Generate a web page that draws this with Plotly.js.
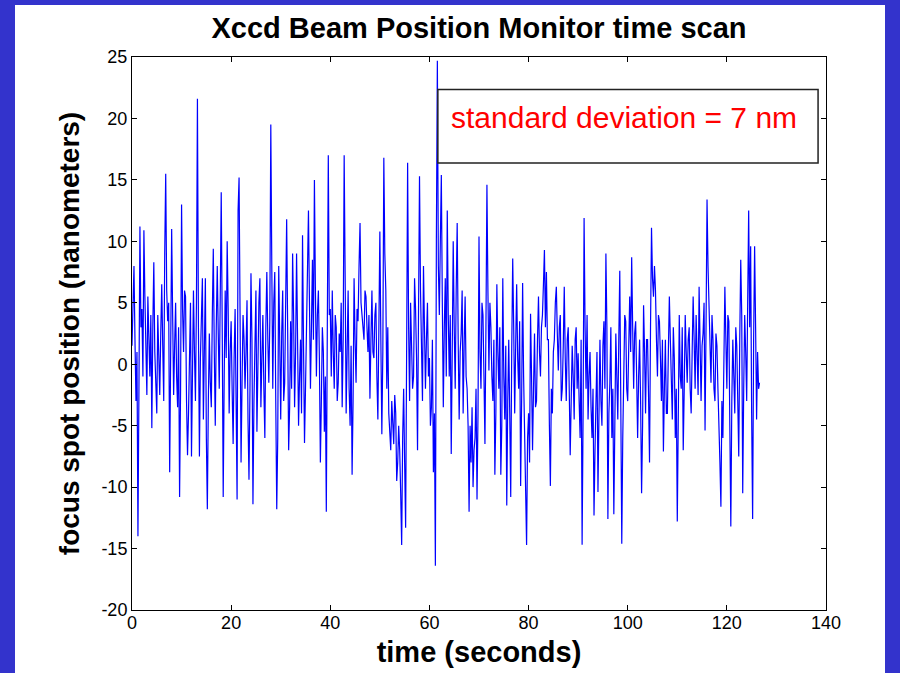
<!DOCTYPE html>
<html>
<head>
<meta charset="utf-8">
<script src="https://cdn.plot.ly/plotly-3.0.1.min.js"></script>
<style>
  html, body { margin: 0; padding: 0; width: 900px; height: 673px; background: #3333cc; overflow: hidden; }
  #chart { position: absolute; left: 15px; top: 5px; width: 870px; height: 668px; background: #ffffff; }
</style>
</head>
<body>
<div id="chart"></div>
<script>
// sampling interval (seconds)
const sampleStep = 0.2;

// focus spot position (nm), one value per sample
const positions = [
  1.5, 5.0, 8.0, 2.0, -3.0, 1.0, -14.0, -2.0, 11.2, 3.0,
  4.5, -1.0, 10.9, 5.5, 0.5, -2.5, 5.5, 2.0, -1.0, 4.0,
  -5.2, 3.0, 8.3, 1.0, -1.5, -4.0, 4.0, 0.5, -2.5, 2.5,
  6.5, 1.5, -3.0, 9.0, 15.5, 6.0, 3.5, 5.0, -8.8, 1.0,
  11.0, 4.0, -2.5, 1.5, 5.0, -1.0, -3.5, 3.0, -10.8, -2.0,
  13.0, 4.5, 1.0, 6.0, 5.5, -3.0, -7.4, -4.0, 2.0, 5.0,
  -7.5, -1.0, 6.0, 1.0, -3.0, 5.0, 21.6, 3.0, -7.5, 0.5,
  5.5, 7.0, -4.5, 2.0, 7.0, -6.0, -11.8, -3.0, 2.5, -1.5,
  -3.5, 4.0, 9.4, 1.0, -5.0, 3.0, 8.0, 2.5, -2.0, 5.5,
  14.0, 3.0, -10.8, -1.0, 6.0, 0.5, 10.0, 4.5, -4.0, 1.0,
  3.5, -2.0, -6.5, 0.5, 4.5, -3.0, -11.0, 12.5, 15.2, 4.0,
  -8.0, -1.5, 4.0, 2.0, -2.0, 1.0, 5.2, -4.5, -9.4, -2.0,
  7.4, 2.0, -11.4, -3.0, 2.5, 6.0, -5.5, 1.0, 5.0, 7.0,
  -3.5, 0.5, 4.0, -2.0, -6.0, 3.0, 7.5, 2.0, -1.5, 3.5,
  19.5, 8.0, -2.0, 5.0, 7.5, -3.0, -11.8, -6.0, 8.0, 2.0,
  -4.5, 2.5, 6.0, -3.0, -1.5, 5.0, 11.8, 3.0, -7.0, -3.5,
  3.5, -2.0, 9.0, 4.0, -3.5, 1.0, 9.0, 2.0, -5.0, -1.0,
  2.0, -4.0, 10.5, 1.5, -6.4, -2.0, 3.0, 7.0, 12.5, 5.0,
  -2.0, 3.0, 8.5, 2.0, 15.0, 6.0, -1.0, 4.0, 6.0, 0.5,
  -8.0, -3.0, 3.0, 1.0, -5.5, -1.0, -12.0, 3.0, 17.0, 4.0,
  4.5, -1.0, 6.0, 1.0, -2.0, 4.0, 3.0, -3.0, -1.5, 2.5,
  1.0, 5.0, -3.5, 2.0, 17.0, 7.0, -4.0, 1.0, 6.0, -2.0,
  -5.0, 1.5, -9.0, -3.0, 7.0, 2.0, -1.5, 4.5, 3.5, 8.0,
  11.5, 5.0, 4.0, 2.5, 2.0, 6.0, 5.5, 3.0, 1.0, 4.0,
  -2.8, 2.0, 6.0, 1.0, 0.5, 4.0, 5.0, -1.0, -4.5, 3.0,
  10.8, 2.0, -5.7, 1.0, 16.8, 9.0, 6.0, -2.0, 3.0, -4.0,
  -5.5, -7.0, -3.0, -5.0, -6.5, -2.5, -4.0, -9.5, -8.0, -5.0,
  -7.0, -10.5, -14.7, -6.0, -2.0, -8.0, -13.3, 1.0, 16.4, 3.0,
  -3.0, 5.0, 1.5, -2.0, -1.0, 7.0, 4.5, 0.5, -7.0, 2.0,
  15.3, 6.0, 1.0, -3.0, 8.0, 3.5, -2.0, 2.0, 5.0, -1.0,
  0.5, -5.0, -3.5, 2.0, -8.8, -4.0, -16.4, 10.0, 24.7, 8.0,
  4.0, 10.0, 15.4, 5.0, -3.5, 3.0, 7.0, -1.0, 12.5, 4.0,
  -1.0, 4.0, -7.3, 1.0, 10.0, 3.0, -2.0, 6.0, 11.5, 2.0,
  -4.5, 1.0, 2.5, 6.0, -4.0, 1.5, 5.5, -1.0, -2.0, -5.0,
  -12.0, -5.0, -8.0, -3.5, -10.0, -7.0, -6.0, -2.0, -11.0, -4.0,
  10.4, 1.0, -2.0, 5.0, 4.0, -1.0, -6.5, 3.0, 14.6, 6.0,
  -0.5, 5.0, 3.0, -1.0, -3.0, 2.0, -9.0, -4.0, 6.5, 1.0,
  -2.0, 3.0, -9.0, -5.0, 7.0, -1.0, -4.5, 1.5, -11.5, -3.0,
  2.0, -4.0, -10.8, 1.0, 8.6, 3.0, -4.0, 1.5, 6.5, 0.5,
  -2.0, 3.5, -9.9, -3.0, 6.6, -1.0, -6.0, -10.0, -14.7, -6.0,
  -4.0, -8.0, 4.1, -1.0, -7.0, -2.0, 2.5, -3.5, -3.0, 2.0,
  5.5, 1.0, -1.0, 3.0, 4.0, 6.5, 9.3, 3.0, 7.5, 2.0,
  2.0, -5.0, -9.9, -2.0, -4.0, 1.0, 2.0, 5.0, 6.3, 2.5,
  -0.5, 3.0, 4.0, -3.0, -2.0, 1.5, 6.3, 0.5, -3.0, 2.0,
  3.0, -2.0, -7.4, -3.0, 1.5, -1.0, -4.5, 2.0, 3.0, -2.0,
  0.9, -3.0, -6.0, 2.0, -14.7, -4.0, 11.9, 3.0, -2.0, 4.0,
  -4.5, -1.0, 1.0, -3.5, -6.0, -2.0, -12.3, -7.0, -3.0, 1.0,
  -10.4, -5.0, 2.0, -3.0, -5.0, 1.5, 3.5, -2.0, 9.0, 3.0,
  -12.6, -4.0, -1.5, 3.0, -6.0, -2.0, -12.2, -5.0, 2.5, -1.0,
  -4.5, 2.0, 7.6, -3.0, -14.6, -6.0, -1.0, 4.0, 3.5, -2.0,
  -3.0, 2.0, 5.5, 1.0, 8.7, 3.0, -2.0, 2.5, 3.5, -1.0,
  -6.0, -1.0, 2.0, -3.0, -10.5, -5.0, 4.8, 1.0, -4.0, 2.0,
  2.0, -2.5, -8.0, 3.0, 11.1, 7.0, 5.5, 8.0, 6.0, 2.0,
  -1.0, 4.0, 3.5, 0.5, -3.0, 2.0, -7.1, -2.0, 2.0, -4.0,
  -4.0, 1.0, 5.5, 2.0, -1.0, -4.5, 3.0, 0.5, -6.0, -2.0,
  -12.8, -3.0, 4.0, -1.0, -2.0, 3.0, -7.0, -2.0, 4.0, 1.0,
  -1.5, 2.0, 3.0, -2.0, -4.0, 1.0, 5.5, 2.0, -2.0, 4.0,
  1.0, -2.5, 6.3, 2.0, -3.0, 1.5, 2.5, 5.0, -5.4, 3.0,
  13.4, 8.0, 5.0, 1.0, -1.5, 4.0, 2.0, -2.0, -3.0, 2.5,
  1.5, -2.0, -4.5, -8.0, -11.6, -3.0, -6.0, 1.0, 6.3, 2.0,
  -2.0, 4.0, 3.5, -5.0, -13.2, -3.0, 2.0, -1.0, -4.0, 3.0,
  1.5, -3.0, -7.5, 2.0, 8.5, 4.0, -10.5, -2.0, 4.0, 1.0,
  -3.0, 5.0, 12.5, 3.0, 9.6, -4.0, -12.6, 2.0, 9.6, 3.0,
  -4.5, 1.0, -2.0, -1.5
];

const times = positions.map((_, i) => +(i * sampleStep).toFixed(2));

const xTickVals = [0, 20, 40, 60, 80, 100, 120, 140];
const yTickVals = [-20, -15, -10, -5, 0, 5, 10, 15, 20, 25];

const chartTitle = "Xccd Beam Position Monitor time scan";
const xLabel = "time (seconds)";
const yLabel = "focus spot position (nanometers)";
const noteText = "standard deviation = 7 nm";

const tickFont = { family: "Liberation Sans, Arial, sans-serif", size: 18, color: "#000000" };
const boldFont = { family: "Liberation Sans, Arial, sans-serif", size: 29, color: "#000000", weight: "bold" };
const yTitleFont = { family: "Liberation Sans, Arial, sans-serif", size: 28, color: "#000000", weight: "bold" };

const trace = {
  x: times,
  y: positions,
  type: "scatter",
  mode: "lines",
  line: { color: "#0000ff", width: 1.2 },
  hoverinfo: "skip"
};

const layout = {
  width: 870,
  height: 668,
  paper_bgcolor: "#ffffff",
  plot_bgcolor: "#ffffff",
  margin: { l: 117, r: 59, t: 52, b: 63 },
  showlegend: false,
  title: {
    text: "<b>" + chartTitle + "</b>",
    font: boldFont,
    xref: "paper", x: 0.5, xanchor: "center",
    yref: "container", y: 0.966, yanchor: "middle"
  },
  xaxis: {
    range: [0, 140],
    tickvals: xTickVals,
    ticktext: xTickVals.map(String),
    ticks: "inside", ticklen: 5, tickcolor: "#000000", tickwidth: 1,
    showline: true, linecolor: "#000000", linewidth: 1, mirror: "ticks",
    showgrid: false, zeroline: false,
    tickfont: tickFont,
    ticklabelstandoff: -4,
    title: { text: "<b>" + xLabel + "</b>", font: boldFont, standoff: 10 }
  },
  yaxis: {
    range: [-20, 25],
    tickvals: yTickVals,
    ticktext: yTickVals.map(String),
    ticks: "inside", ticklen: 5, tickcolor: "#000000", tickwidth: 1,
    showline: true, linecolor: "#000000", linewidth: 1, mirror: "ticks",
    showgrid: false, zeroline: false,
    tickfont: tickFont,
    title: { text: "<b>" + yLabel + "</b>", font: yTitleFont, standoff: 13 }
  },
  shapes: [{
    type: "rect", xref: "x", yref: "y",
    x0: 61.7, x1: 138.4, y0: 16.37, y1: 22.36,
    fillcolor: "#ffffff", line: { color: "#222222", width: 1.5 },
    layer: "above"
  }],
  annotations: [{
    xref: "x", yref: "y", x: 63.9, y: 20.1,
    xanchor: "left", yanchor: "middle",
    text: noteText, showarrow: false,
    font: { family: "Liberation Sans, Arial, sans-serif", size: 30, color: "#ff0000" }
  }]
};

Plotly.newPlot("chart", [trace], layout, { staticPlot: true, displayModeBar: false });
</script>
</body>
</html>
